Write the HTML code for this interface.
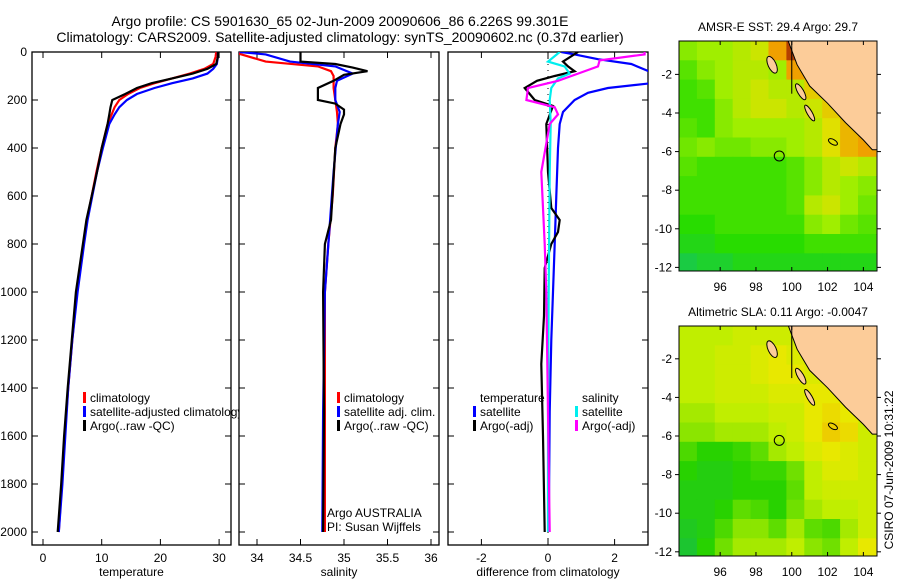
<!DOCTYPE html>
<html><head><meta charset="utf-8"><style>
body{margin:0;background:#fff;}
svg{display:block;font-family:"Liberation Sans",sans-serif;}
text{font-size:12px;fill:#000;}
</style></head><body>
<svg id="s" width="900" height="580" xmlns="http://www.w3.org/2000/svg">
<defs>
<clipPath id="c1"><rect x="32" y="52" width="199" height="493"/></clipPath>
<clipPath id="c2"><rect x="239" y="52" width="200" height="493"/></clipPath>
<clipPath id="c3"><rect x="448" y="52" width="200" height="493"/></clipPath>
<clipPath id="cl1"><rect x="0" y="0" width="239" height="580"/></clipPath>
<clipPath id="m1c"><rect x="679" y="41" width="198" height="230"/></clipPath>
<clipPath id="m2c"><rect x="679" y="326" width="198" height="230"/></clipPath>
</defs>
<text x="340" y="26" text-anchor="middle" style="font-size:14px">Argo profile: CS 5901630_65 02-Jun-2009 20090606_86 6.226S 99.301E</text>
<text x="340" y="42" text-anchor="middle" style="font-size:14px">Climatology: CARS2009. Satellite-adjusted climatology: synTS_20090602.nc (0.37d earlier)</text>
<g id="g"></g>
<text transform="translate(893,470) rotate(-90)" text-anchor="middle">CSIRO 07-Jun-2009 10:31:22</text>
</svg>
<script>
// ---- profile data ----
const tDepth=[0,20,50,70,90,110,130,150,175,200,230,260,300,400,500,600,700,800,1000,1200,1400,1600,1800,2000];
const tClim=[29.5,29.4,29,27.5,25,22,19,16.5,14.5,13,12.2,11.7,11,10,9.1,8.3,7.5,6.9,5.8,5.0,4.3,3.7,3.2,2.7];
const tSat=[29.8,29.8,29.6,29,28,25.5,22,19,16,14.3,13,12.2,11.3,10.2,9.2,8.4,7.6,7,5.9,5.0,4.3,3.8,3.3,2.7];
const tArgo=[29.8,29.8,29.5,28,25.5,22,18.5,16,14,11.8,11.5,11.3,11,10,9.2,8.3,7.4,6.8,5.6,4.9,4.2,3.6,3.1,2.5];
const sClimDepth=[0,8,40,60,80,100,150,200,250,300,400,600,800,1000,1500,2000];
const sClim=[33.8,33.8,34.1,34.7,34.85,34.88,34.88,34.9,34.92,34.93,34.9,34.87,34.82,34.78,34.78,34.78];
const sSatDepth=[0,10,40,60,90,120,150,200,250,300,500,700,1000,1500,2000];
const sSat=[33.8,34.1,34.38,34.9,35.1,34.92,34.9,34.9,34.95,34.93,34.88,34.84,34.78,34.76,34.75];
const sArgoDepth=[0,40,50,65,80,95,120,150,200,215,240,260,300,400,700,800,1000,1500,2000];
const sArgo=[34.5,34.5,34.9,35.1,35.27,35.0,34.88,34.7,34.7,34.9,35.0,35.0,34.96,34.9,34.85,34.78,34.76,34.77,34.76];
const dTDepth=[0,10,30,50,90,110,130,150,170,200,250,300,400,600,800,1000,1200,1500,2000];
const dTSat=[0.4,0.8,1.5,2.5,3.2,4,3.1,1.8,1.2,0.8,0.45,0.35,0.3,0.25,0.2,0.15,0.1,0.05,0.02];
const dTArgoDepth=[0,40,60,80,100,120,150,200,225,300,500,650,700,750,800,900,1100,1300,1600,2000];
const dTArgo=[0.9,0.45,0.6,0.8,0.2,-0.33,-0.7,-0.4,0.15,-0.05,0.0,0.1,0.35,0.3,0.1,-0.1,-0.12,-0.2,-0.15,-0.1];
const dSSatDepth=[0,40,60,90,110,150,200,300,500,1000,1500,2000];
const dSSat=[0.35,0.0,0.5,0.65,0.3,0.1,0.05,0.08,0.05,0.02,0.0,0.0];
const dSArgoDepth=[0,10,35,60,90,120,150,200,230,260,300,500,800,1000,1500,2000];
const dSArgo=[2.9,2.9,1.55,1.5,0.9,0.3,-0.6,-0.65,0.2,0.3,0.05,-0.2,-0.1,-0.05,0.0,0.05];
const depthTicks=[0,200,400,600,800,1000,1200,1400,1600,1800,2000];
const tTicks=[0,10,20,30];
const sTicks=[34,34.5,35,35.5,36];
const dTicks=[-2,0,2];
// ---- map data (1-degree cells, rows from north, cols from 93.7E) ----
const sstGrid=[
[.45,.5,.5,.55,.6,.8,.95,.95,.8,.8,.8],
[.35,.45,.5,.55,.55,.5,.8,.75,.7,.7,.7],
[.3,.35,.5,.55,.6,.55,.55,.7,.75,.75,.75],
[.3,.3,.45,.55,.6,.6,.55,.6,.7,.75,.75],
[.35,.3,.45,.5,.5,.5,.5,.55,.65,.75,.8],
[.4,.45,.4,.4,.45,.45,.5,.55,.65,.75,.8],
[.35,.3,.3,.3,.3,.3,.35,.45,.55,.6,.55],
[.3,.3,.3,.3,.3,.3,.35,.45,.55,.5,.45],
[.3,.3,.3,.3,.3,.3,.35,.55,.6,.5,.4],
[.25,.25,.3,.3,.3,.3,.3,.45,.5,.4,.35],
[.2,.2,.25,.25,.25,.25,.25,.3,.3,.3,.3],
[.1,.15,.15,.2,.2,.2,.2,.2,.2,.2,.2]];
const slaGrid=[
[.55,.55,.55,.6,.6,.6,.6,.6,.6,.6,.6],
[.55,.55,.6,.6,.65,.7,.65,.65,.6,.6,.6],
[.55,.55,.6,.6,.65,.7,.7,.65,.6,.6,.6],
[.55,.55,.6,.6,.6,.65,.65,.7,.7,.65,.6],
[.5,.5,.55,.55,.55,.6,.6,.7,.75,.7,.65],
[.45,.45,.5,.5,.5,.55,.6,.7,.8,.75,.6],
[.3,.2,.2,.25,.35,.5,.55,.65,.7,.65,.6],
[.2,.15,.15,.2,.25,.25,.4,.55,.65,.65,.6],
[.15,.15,.15,.2,.2,.2,.35,.55,.6,.6,.6],
[.15,.15,.2,.35,.3,.2,.4,.5,.55,.55,.6],
[.1,.15,.3,.45,.45,.35,.5,.35,.3,.5,.6],
[.05,.2,.4,.5,.5,.5,.55,.45,.4,.55,.7]];
const lonTicks=[96,98,100,102,104];
const latTicks=[-2,-4,-6,-8,-10,-12];
const landLon=[99.8,100.3,101,102,103,104,104.5,104.9,104.9];
const landLat=[-0.27,-1.5,-2.6,-3.5,-4.5,-5.4,-5.9,-5.9,-0.27];
const argoLon=99.301, argoLat=-6.226;

const NS="http://www.w3.org/2000/svg";
const G=document.getElementById('g');
function mk(tag,attrs,parent){const e=document.createElementNS(NS,tag);for(const k in attrs)e.setAttribute(k,attrs[k]);(parent||G).appendChild(e);return e;}
function txt(x,y,s,anchor,parent){const e=mk('text',{x:x,y:y,'text-anchor':anchor||'start'},parent);e.textContent=s;return e;}
const yD=d=>52+d*0.24;
function panel(x0,x1,xs,ticks,label,clip,name){
  const g=mk('g',{});
  
  
  const fr=mk('rect',{x:x0,y:52,width:x1-x0,height:493,fill:'none',stroke:'#000','stroke-width':1.3},g);
  
  
  ticks.forEach(t=>{const X=xs(t);
    mk('line',{x1:X,x2:X,y1:545,y2:539,stroke:'#000'},g);
    mk('line',{x1:X,x2:X,y1:52,y2:58,stroke:'#000'},g);
    const l=txt(X,562,String(t),'middle',g);
    
    });
  depthTicks.forEach(d=>{const Y=yD(d);
    mk('line',{x1:x0,x2:x0+6,y1:Y,y2:Y,stroke:'#000'},g);
    mk('line',{x1:x1,x2:x1-6,y1:Y,y2:Y,stroke:'#000'},g);});
  const xl=txt((x0+x1)/2,576,label,'middle',g);
  
  
  return g;
}
function series(depths,vals,xs,color,clip,name,w){
  const pts=depths.map((d,i)=>xs(vals[i]).toFixed(1)+','+yD(d).toFixed(1)).join(' ');
  const p=mk('polyline',{points:pts,fill:'none',stroke:color,'stroke-width':w||2.2,'clip-path':'url(#'+clip+')'});
  
  
}
function legend(x,y,items,clip){
  items.forEach((it,i)=>{const Y=y+i*14;
    if(it[1]) mk('rect',{x:x,y:Y-10,width:3,height:11,fill:it[1]});
    const t=txt(x+7,Y,it[0]);
    if(clip) t.setAttribute('clip-path','url(#'+clip+')');
    
    });
}
// Panel 1: temperature
const xT=v=>43+v*5.87;
panel(32,231,xT,tTicks,'temperature','c1','temperature-panel');
depthTicks.forEach(d=>{const l=txt(27,yD(d)+4,String(d),'end');
  
  });
series(tDepth,tClim,xT,'#f00','c1','temp-climatology-line');
series(tDepth,tSat,xT,'#00f','c1','temp-satellite-line');
series(tDepth,tArgo,xT,'#000','c1','temp-argo-line');
legend(83,402,[['climatology','#f00'],['satellite-adjusted climatology','#00f'],['Argo(..raw -QC)','#000']],'cl1');
// Panel 2: salinity
const xS=v=>257+(v-34)*87;
panel(239,439,xS,sTicks,'salinity','c2','salinity-panel');
series(sClimDepth,sClim,xS,'#f00','c2','sal-climatology-line');
series(sSatDepth,sSat,xS,'#00f','c2','sal-satellite-line');
series(sArgoDepth,sArgo,xS,'#000','c2','sal-argo-line');
legend(337,402,[['climatology','#f00'],['satellite adj. clim.','#00f'],['Argo(..raw -QC)','#000']]);
txt(327,517,'Argo AUSTRALIA');
txt(327,531,'PI: Susan Wijffels');
// Panel 3: differences
const xDf=v=>548+v*33.3;
panel(448,648,xDf,dTicks,'difference from climatology','c3','difference-panel');
mk('line',{x1:548,x2:548,y1:52,y2:545,stroke:'#000','stroke-dasharray':'1,5'});
series(dTDepth,dTSat,xDf,'#00f','c3','diff-temp-satellite-line');
series(dTArgoDepth,dTArgo,xDf,'#000','c3','diff-temp-argo-line');
series(dSSatDepth,dSSat,xDf,'#0ee','c3','diff-sal-satellite-line');
series(dSArgoDepth,dSArgo,xDf,'#f0f','c3','diff-sal-argo-line');
legend(473,402,[['temperature',null],['satellite','#00f'],['Argo(-adj)','#000']]);
legend(575,402,[['salinity',null],['satellite','#0ee'],['Argo(-adj)','#f0f']]);
// Maps
function lerpC(stops,v){v=Math.max(0,Math.min(1,v));
  for(let i=1;i<stops.length;i++){if(v<=stops[i][0]){const a=stops[i-1],b=stops[i],t=(v-a[0])/(b[0]-a[0]);
    return 'rgb('+[0,1,2].map(k=>Math.round(a[1][k]+(b[1][k]-a[1][k])*t)).join(',')+')';}}
  return 'rgb('+stops[stops.length-1][1].join(',')+')';}
const sstStops=[[0,[16,192,112]],[0.25,[40,220,0]],[0.5,[160,238,0]],[0.65,[224,224,0]],[0.8,[240,160,0]],[1,[160,32,0]]];
const slaStops=[[0,[24,192,64]],[0.2,[40,210,0]],[0.4,[112,224,0]],[0.55,[192,238,0]],[0.7,[232,232,0]],[0.85,[240,192,0]],[1,[240,150,0]]];
function map(top,grid,stops,title,clip,name,latTop){
  const g=mk('g',{});
  
  
  const lon0=93.7, px=17.9, py=19.3;
  const X=l=>679+(l-lon0)*px;
  const Y=la=>top+(latTop-la)*py;
  grid.forEach((row,r)=>row.forEach((v,c)=>{
    const cell=mk('rect',{x:X(lon0+c).toFixed(1),y:Y(latTop-r).toFixed(1),width:px+0.5,height:py+0.5,fill:lerpC(stops,v),'clip-path':'url(#'+clip+')'},g);
    
    }));
  const lp=mk('polygon',{points:landLon.map((l,i)=>X(l).toFixed(1)+','+Y(landLat[i]).toFixed(1)).join(' '),fill:'#fccc99',stroke:'#000','stroke-width':1,'clip-path':'url(#'+clip+')'},g);
  
  
  mk('ellipse',{cx:X(98.9),cy:Y(-1.5),rx:4,ry:9,fill:'#fccc99',stroke:'#000',transform:'rotate(-25 '+X(98.9)+' '+Y(-1.5)+')'},g);
  mk('ellipse',{cx:X(100.5),cy:Y(-2.9),rx:3,ry:9,fill:'#fccc99',stroke:'#000',transform:'rotate(-30 '+X(100.5)+' '+Y(-2.9)+')'},g);
  mk('ellipse',{cx:X(101),cy:Y(-4),rx:2.5,ry:9,fill:'#fccc99',stroke:'#000',transform:'rotate(-30 '+X(101)+' '+Y(-4)+')'},g);
  mk('ellipse',{cx:X(102.3),cy:Y(-5.5),rx:5,ry:2.5,fill:'none',stroke:'#000',transform:'rotate(30 '+X(102.3)+' '+Y(-5.5)+')'},g);
  mk('line',{x1:X(100),x2:X(100),y1:top,y2:Y(-3),stroke:'#000'},g);
  const ap=mk('circle',{cx:X(argoLon),cy:Y(argoLat),r:5,fill:'none',stroke:'#000'},g);
  
  
  mk('rect',{x:679,y:top,width:198,height:230,fill:'none',stroke:'#000'},g);
  lonTicks.forEach(l=>{mk('line',{x1:X(l),x2:X(l),y1:top+230,y2:top+226,stroke:'#000'},g);
    mk('line',{x1:X(l),x2:X(l),y1:top,y2:top+4,stroke:'#000'},g);
    txt(X(l),top+250,String(l),'middle',g);});
  latTicks.forEach(la=>{mk('line',{x1:679,x2:675,y1:Y(la),y2:Y(la),stroke:'#000'},g);
    mk('line',{x1:877,x2:881,y1:Y(la),y2:Y(la),stroke:'#000'},g);
    txt(672,Y(la)+4,String(la),'end',g);});
  const t=txt(778,top-10,title,'middle',g);
  
  
}
map(41,sstGrid,sstStops,'AMSR-E SST: 29.4 Argo: 29.7','m1c','sst-map',-0.27);
map(326,slaGrid,slaStops,'Altimetric SLA: 0.11 Argo: -0.0047','m2c','sla-map',-0.3);
</script>
</body></html>
